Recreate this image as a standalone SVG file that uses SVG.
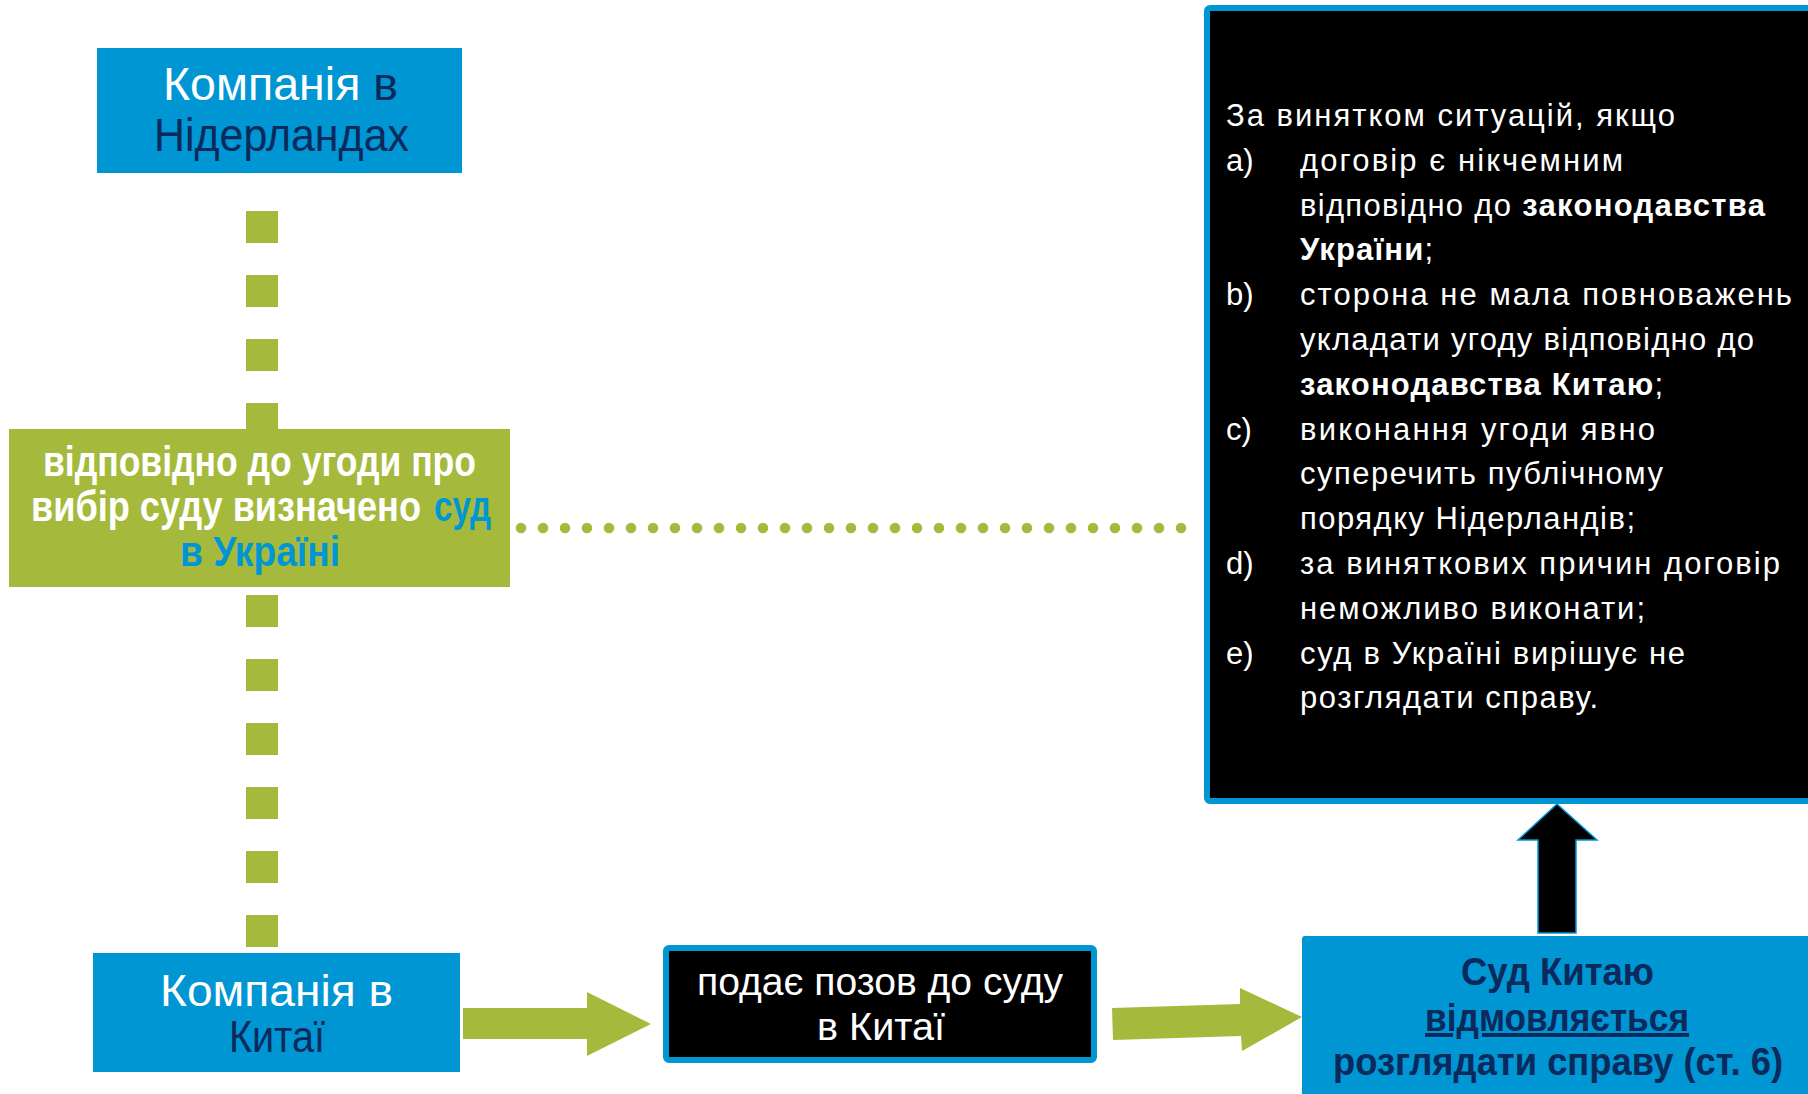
<svg xmlns="http://www.w3.org/2000/svg" width="1808" height="1094" viewBox="0 0 1808 1094">
<style>
.t{font-family:'Liberation Sans',Arial,sans-serif}
.b{font-weight:bold}
.w{fill:#FFFFFF}
.nv{fill:#0B2A5B}
.bl{fill:#0095D3}
.blue{fill:#0095D3}
.green{fill:#A5BA3D}
.bk{fill:#000000;stroke:#0095D3;stroke-width:6}
.list{font-size:31px;fill:#FFFFFF}
</style>
<rect width="1808" height="1094" fill="#FFFFFF"/>
<g id="connectors">
  <line x1="262" y1="211" x2="262" y2="947" stroke="#A5BA3D" stroke-width="32" stroke-dasharray="32 32"/>
  <line x1="521" y1="528" x2="1200" y2="528" stroke="#A5BA3D" stroke-width="10.5" stroke-linecap="round" stroke-dasharray="0 22"/>
  <polygon class="green" points="463,1008 587,1008 587,992 651,1024 587,1056 587,1039 463,1039"/>
  <polygon class="green" points="1112,1008 1240,1004 1240,988 1302,1017 1242,1051 1241,1036 1113,1040"/>
  <polygon points="1557,804 1597,840 1576,840 1576,933 1538,933 1538,840 1518,840" fill="#000000" stroke="#0095D3" stroke-width="1.5"/>
</g>
<g id="node-netherlands">
  <rect class="blue" x="97" y="48" width="365" height="125"/>
  <text class="t" x="163" y="100" font-size="46" textLength="235" lengthAdjust="spacingAndGlyphs"><tspan class="w">Компанія </tspan><tspan class="nv">в</tspan></text>
  <text class="t nv" x="154" y="151" font-size="46" textLength="255" lengthAdjust="spacingAndGlyphs">Нідерландах</text>
</g>
<g id="node-agreement">
  <rect class="green" x="9" y="429" width="501" height="158"/>
  <text class="t b w" x="43" y="476" font-size="42" textLength="433" lengthAdjust="spacingAndGlyphs">відповідно до угоди про</text>
  <text class="t b w" x="31" y="521" font-size="42" textLength="390" lengthAdjust="spacingAndGlyphs">вибір суду визначено</text>
  <text class="t b bl" x="434" y="521" font-size="42" textLength="57" lengthAdjust="spacingAndGlyphs">суд</text>
  <text class="t b bl" x="180" y="566" font-size="42" textLength="160" lengthAdjust="spacingAndGlyphs">в Україні</text>
</g>
<g id="node-china-company">
  <rect class="blue" x="93" y="953" width="367" height="119"/>
  <text class="t w" x="160" y="1006" font-size="45" textLength="233" lengthAdjust="spacingAndGlyphs">Компанія в</text>
  <text class="t nv" x="229" y="1052" font-size="45" textLength="96" lengthAdjust="spacingAndGlyphs">Китаї</text>
</g>
<g id="node-lawsuit">
  <rect class="bk" x="666" y="948" width="428" height="112" rx="3"/>
  <text class="t w" x="697" y="995" font-size="38" textLength="366" lengthAdjust="spacingAndGlyphs">подає позов до суду</text>
  <text class="t w" x="817" y="1040" font-size="38" textLength="128" lengthAdjust="spacingAndGlyphs">в Китаї</text>
</g>
<g id="node-china-court">
  <rect class="blue" x="1302" y="936" width="540" height="200" rx="3"/>
  <text class="t b nv" x="1461" y="985" font-size="39" textLength="193" lengthAdjust="spacingAndGlyphs">Суд Китаю</text>
  <text class="t b nv" x="1425" y="1031" font-size="39" textLength="264" lengthAdjust="spacingAndGlyphs" text-decoration="underline">відмовляється</text>
  <text class="t b nv" x="1333" y="1075" font-size="39" textLength="450" lengthAdjust="spacingAndGlyphs">розглядати справу (ст. 6)</text>
</g>
<g id="node-exceptions">
  <rect class="bk" x="1207" y="8" width="700" height="793" rx="3"/>
  <g class="t list">
    <text x="1226" y="126" textLength="449" lengthAdjust="spacing">За винятком ситуацій, якщо</text>
    <text x="1226" y="171">a)</text>
    <text x="1300" y="171" textLength="323" lengthAdjust="spacing">договір є нікчемним</text>
    <text x="1300" y="216" textLength="465" lengthAdjust="spacing">відповідно до <tspan class="b">законодавства</tspan></text>
    <text x="1300" y="260" textLength="133" lengthAdjust="spacing"><tspan class="b">України</tspan>;</text>
    <text x="1226" y="305">b)</text>
    <text x="1300" y="305" textLength="492" lengthAdjust="spacing">сторона не мала повноважень</text>
    <text x="1300" y="350" textLength="454" lengthAdjust="spacing">укладати угоду відповідно до</text>
    <text x="1300" y="395" textLength="363" lengthAdjust="spacing"><tspan class="b">законодавства Китаю</tspan>;</text>
    <text x="1226" y="440">c)</text>
    <text x="1300" y="440" textLength="355" lengthAdjust="spacing">виконання угоди явно</text>
    <text x="1300" y="484" textLength="363" lengthAdjust="spacing">суперечить публічному</text>
    <text x="1300" y="529" textLength="335" lengthAdjust="spacing">порядку Нідерландів;</text>
    <text x="1226" y="574">d)</text>
    <text x="1300" y="574" textLength="480" lengthAdjust="spacing">за виняткових причин договір</text>
    <text x="1300" y="619" textLength="345" lengthAdjust="spacing">неможливо виконати;</text>
    <text x="1226" y="664">e)</text>
    <text x="1300" y="664" textLength="385" lengthAdjust="spacing">суд в Україні вирішує не</text>
    <text x="1300" y="708" textLength="298" lengthAdjust="spacing">розглядати справу.</text>
  </g>
</g>
</svg>
